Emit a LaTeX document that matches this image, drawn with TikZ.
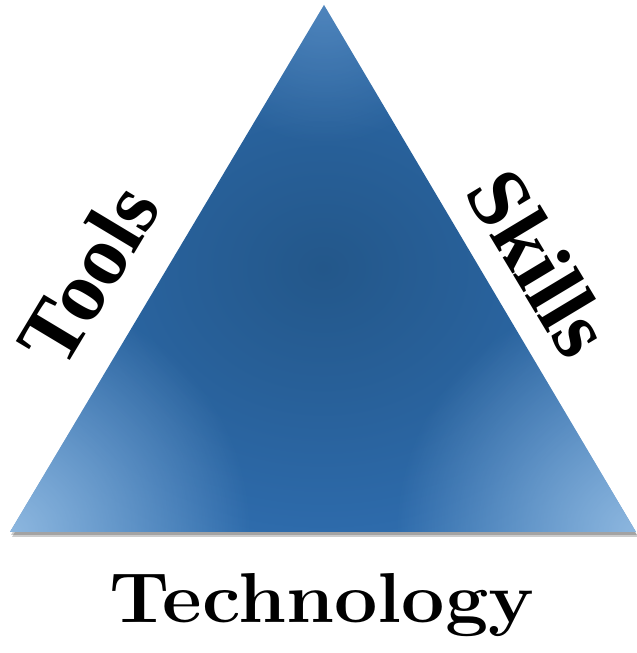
\documentclass[tikz,border=0pt]{standalone}
\usepackage{fontspec}
\newfontfamily\sidefont{Liberation Serif}
\usetikzlibrary{calc, fadings}

\definecolor{triInner}{HTML}{23578A}
\definecolor{triMid}{HTML}{2D6AAA}
\definecolor{triEdge}{HTML}{3878B8}
\definecolor{triRim}{HTML}{3F7FBF}
\definecolor{triCorner}{HTML}{9CC2E6}
% 25bp = triangle half-width / half-height
\pgfdeclareradialshading{trishade}{\pgfpoint{0bp}{0bp}}{%
  color(0bp)=(triInner);
  color(7bp)=(triInner!55!triMid);
  color(14.5bp)=(triMid);
  color(21bp)=(triEdge);
  color(25bp)=(triRim);
  color(50bp)=(triRim)}
\tikzfading[name = cornerfade,
  inner color = transparent!0, outer color = transparent!100]

\begin{document}
\begin{tikzpicture}[
    x = 0.75pt, y = 0.75pt,
    side/.style = {font = \sidefont\bfseries\fontsize{64}{70}\selectfont,
      inner sep = 0pt},
    base/.style = {font = \bfseries\fontsize{53}{60}\selectfont,
      inner sep = 0pt, xscale = 1.09},
    glow/.style = {fill = triCorner, path fading = cornerfade}
    ]
    \useasboundingbox (0, 0) rectangle (636, 653);

    \coordinate (apex) at (324, 648);
    \coordinate (left) at (10, 121);
    \coordinate (right) at (636, 121);
    \coordinate (mid) at (323, 385);

    % soft shadow
    \fill [black, opacity = 0.2]
    ($(left) + (1, -3)$) -- ($(right) + (1, -3)$) -- ($(apex) + (1, -3)$) -- cycle;
    \fill [black, opacity = 0.2]
    ($(left) + (2, -5)$) -- ($(right) + (2, -5)$) -- ($(apex) + (2, -5)$) -- cycle;

    \begin{scope}
      \clip (left) -- (right) -- (apex) -- cycle;
      \path [shading = trishade]
      ($(mid) + (-520, -440)$) rectangle ($(mid) + (520, 440)$);
      \path [glow, opacity = 0.85] (left) circle [radius = 240];
      \path [glow, opacity = 0.85] (right) circle [radius = 240];
      \path [glow, opacity = 0.3] (apex) circle [radius = 140];
    \end{scope}

    \node at (88, 379) [side, rotate = 59, name = tools] {Tools};
    \node at (540, 390) [side, rotate = -59, name = skills] {Skills};
    \node at (322, 30) [base, anchor = base, name = tech] {Technology};

  \end{tikzpicture}
\end{document}
